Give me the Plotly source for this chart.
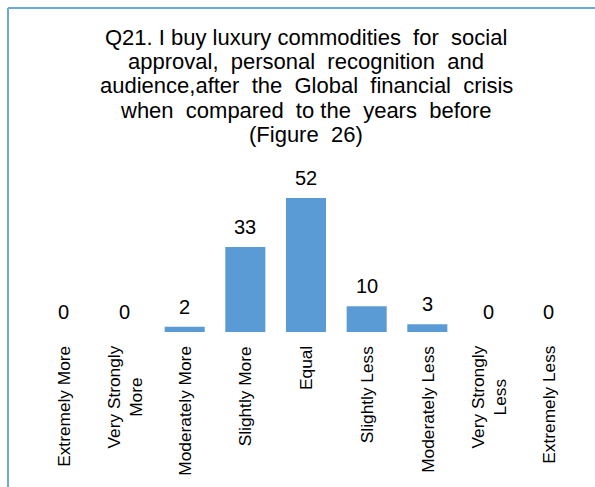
import plotly.graph_objects as go

# Survey responses for Q21
categories = [
    "Extremely More",
    "Very Strongly<br>More",
    "Moderately More",
    "Slightly More",
    "Equal",
    "Slightly Less",
    "Moderately Less",
    "Very Strongly<br>Less",
    "Extremely Less",
]
counts = [0, 0, 2, 33, 52, 10, 3, 0, 0]

title_lines = [
    "Q21. I buy luxury commodities&nbsp; for&nbsp; social",
    "approval,&nbsp; personal&nbsp; recognition&nbsp; and",
    "audience,after&nbsp; the&nbsp; Global&nbsp; financial&nbsp; crisis",
    "when&nbsp; compared&nbsp; to the&nbsp; years&nbsp; before",
    "(Figure&nbsp; 26)",
]

W, H = 595, 487
ML, MR, MT, MB = 33, 16, 150, 155
FONT = "Liberation Sans, Arial, sans-serif"
BAR_BLUE = "#5B9BD5"
FRAME_BLUE = "#6FA6DC"
TITLE_SIZE = 22
TITLE_BASE = 46      # baseline of the first title line (px from top)
TITLE_STEP = 24.3    # line spacing (px)

plot_w = W - ML - MR
plot_h = H - MT - MB
px = lambda v: (v - ML) / plot_w
py = lambda v: (H - MB - v) / plot_h

fig = go.Figure(
    go.Bar(
        x=categories,
        y=counts,
        marker=dict(color=BAR_BLUE, line=dict(width=0)),
        hoverinfo="skip",
    )
)

# value labels above each bar
for cat, val in zip(categories, counts):
    fig.add_annotation(
        x=cat, y=val, text=str(val), showarrow=False,
        xref="x", yref="y", yanchor="bottom", yshift=7,
        font=dict(family=FONT, size=20, color="black"),
    )

# category labels, rotated, with centred line alignment
for cat in categories:
    fig.add_annotation(
        x=cat, y=0, text=cat, showarrow=False,
        xref="x", yref="y", yanchor="top", xanchor="center",
        yshift=-12, textangle=-90, align="center",
        font=dict(family=FONT, size=17.3, color="black"),
    )

# chart title, one annotation per line
for i, line in enumerate(title_lines):
    base = TITLE_BASE + i * TITLE_STEP
    fig.add_annotation(
        x=0.5, xref="paper", y=py(base + 0.21 * TITLE_SIZE + 1), yref="paper",
        text=line, showarrow=False, yanchor="bottom",
        font=dict(family=FONT, size=TITLE_SIZE, color="black"),
    )

# frame lines along the top and left edges
fig.add_shape(type="line", xref="paper", yref="paper",
              x0=px(8), x1=px(W), y0=py(8), y1=py(8),
              line=dict(color=FRAME_BLUE, width=2))
fig.add_shape(type="line", xref="paper", yref="paper",
              x0=px(8), x1=px(8), y0=py(8), y1=py(H),
              line=dict(color=FRAME_BLUE, width=2))

fig.update_layout(
    width=W, height=H,
    margin=dict(l=ML, r=MR, t=MT, b=MB, pad=0),
    paper_bgcolor="white", plot_bgcolor="white",
    bargap=0.34,
    showlegend=False,
    font=dict(family=FONT, color="black"),
)
fig.update_xaxes(showticklabels=False, showline=False, showgrid=False,
                 ticks="", ticklen=0)
fig.update_yaxes(range=[0, plot_h / 2.577], visible=False,
                 showgrid=False, zeroline=False)

fig.write_html("out.html")
